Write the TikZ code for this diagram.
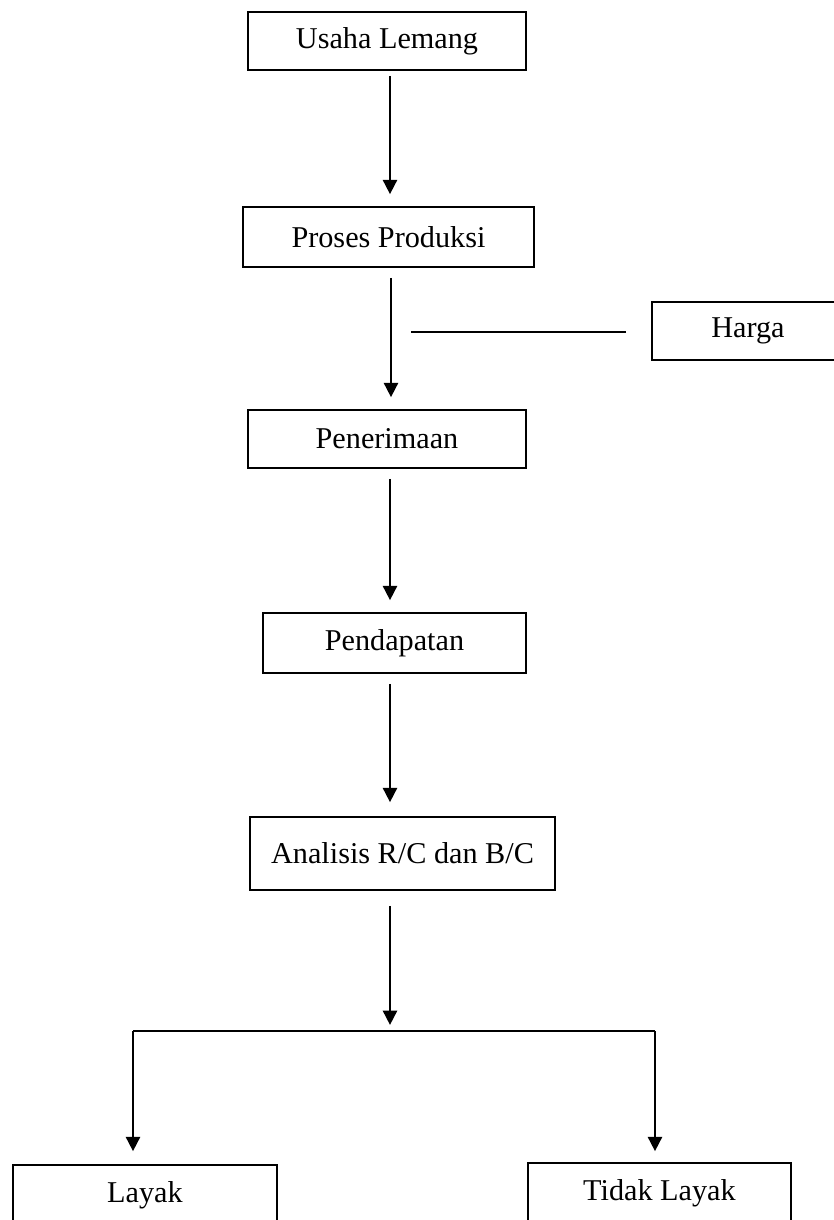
\documentclass[tikz,border=0pt]{standalone}
\usepackage{fontspec}
\setmainfont{Liberation Serif}
\usepackage{tikz}
\usetikzlibrary{arrows.meta,positioning}

\begin{document}
\begin{tikzpicture}[
    box/.style={rectangle, draw=black, line width=1.1pt, align=center, inner sep=0pt, font=\fontsize{21.5}{25}\selectfont},
    arrow/.style={-{Triangle[length=3.6mm,width=3.5mm]}, line width=1.9pt, shorten <=0.25cm, shorten >=0.3cm},
    line/.style={line width=1.9pt}
  ]
    \useasboundingbox (0,0) rectangle (20.85,-30.5);

    \node[box, minimum width=6.95cm, minimum height=1.45cm] (usaha) at (9.675,-1.025) {Usaha Lemang};
    \node[box, minimum width=7.275cm, minimum height=1.5cm] (proses) at (9.7125,-5.925) {Proses Produksi};
    \node[box, minimum width=4.8cm, minimum height=1.45cm] (harga) at (18.7,-8.275) {Harga};
    \node[box, minimum width=6.95cm, minimum height=1.45cm] (terima) at (9.675,-10.975) {Penerimaan};
    \node[box, minimum width=6.575cm, minimum height=1.5cm] (dapat) at (9.8625,-16.075) {Pendapatan};
    \node[box, minimum width=7.625cm, minimum height=1.825cm] (analisis) at (10.0625,-21.3375) {Analisis R/C dan B/C};
    \node[box, minimum width=6.6cm, minimum height=1.5cm] (layak) at (3.625,-29.875) {Layak};
    \node[box, minimum width=6.575cm, minimum height=1.5cm] (tidak) at (16.4875,-29.825) {Tidak Layak};

    \coordinate (hargaend) at (10.275,-8.3);
    \coordinate (cabang) at (9.75,-25.775);
    \coordinate (cabangL) at (3.325,-25.775);
    \coordinate (cabangR) at (16.375,-25.775);

    \draw[arrow, shorten <=0.125cm] (usaha.south -| 9.75,0) -- (proses.north -| 9.75,0);
    \draw[arrow] (proses.south -| 9.775,0) -- (terima.north -| 9.775,0);
    \draw[line, shorten <=0.625cm] (harga.west |- hargaend) -- (hargaend);
    \draw[arrow] (terima.south -| 9.75,0) -- (dapat.north -| 9.75,0);
    \draw[arrow, shorten >=0.35cm] (dapat.south -| 9.75,0) -- (analisis.north -| 9.75,0);
    \draw[arrow, shorten <=0.375cm, shorten >=0.15cm] (analisis.south -| cabang) -- (cabang);
    \draw[line] (cabangL) -- (cabangR);
    \draw[arrow, shorten <=0pt, shorten >=0.325cm] (cabangL) -- (layak.north -| cabangL);
    \draw[arrow, shorten <=0pt, shorten >=0.275cm] (cabangR) -- (tidak.north -| cabangR);
  \end{tikzpicture}
\end{document}
